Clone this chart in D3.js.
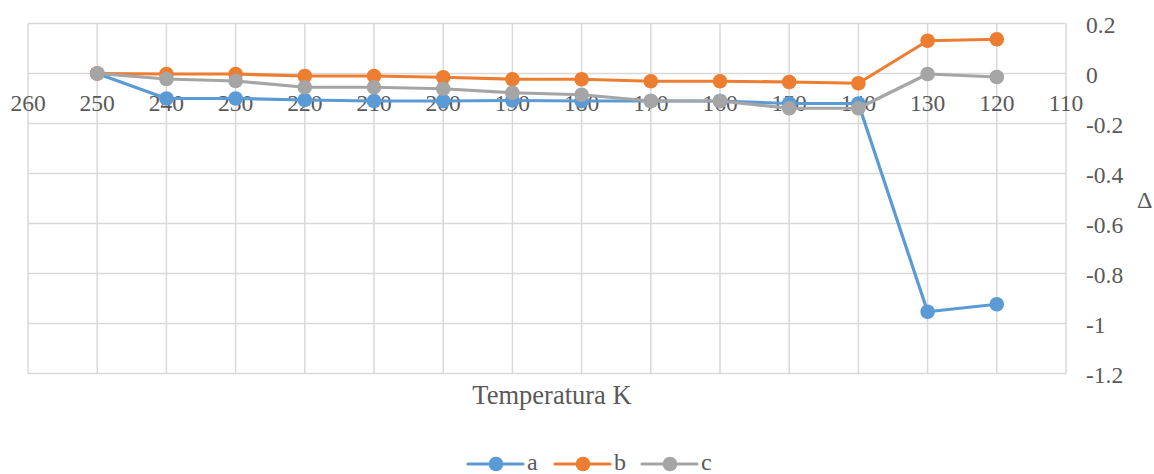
<!DOCTYPE html>
<html><head><meta charset="utf-8">
<script src="https://cdn.jsdelivr.net/npm/d3@7"></script>
<style>body{margin:0;background:#fff}svg{display:block}text{font-family:"Liberation Serif","Times New Roman",serif}</style>
</head><body>
<svg id="c" width="1154" height="474"></svg>
<script>
const temps = [250,240,230,220,210,200,190,180,170,160,150,140,130,120];
const seriesA = [0,-0.1,-0.1,-0.106,-0.11,-0.11,-0.108,-0.11,-0.11,-0.11,-0.12,-0.12,-0.953,-0.923];
const seriesB = [0,-0.002,-0.002,-0.01,-0.01,-0.015,-0.023,-0.023,-0.031,-0.031,-0.034,-0.039,0.131,0.137];
const seriesC = [0,-0.022,-0.03,-0.055,-0.055,-0.061,-0.077,-0.085,-0.11,-0.11,-0.139,-0.139,-0.002,-0.014];
const seriesNames = ["a","b","c"];
const colors = ["#5b9bd5","#ed7d31","#a5a5a5"];
const xTicks = [260,250,240,230,220,210,200,190,180,170,160,150,140,130,120,110];
const yTicks = [0.2,0,-0.2,-0.4,-0.6,-0.8,-1,-1.2];

const svg = d3.select("#c");
const x = d3.scaleLinear().domain([260,110]).range([28,1066]);
const y = d3.scaleLinear().domain([0.2,-1.2]).range([23.5,373.5]);
const tc = "#595959";

svg.append("g").selectAll("line").data(xTicks).join("line")
  .attr("x1",d=>x(d)).attr("x2",d=>x(d)).attr("y1",y(0.2)).attr("y2",y(-1.2))
  .attr("stroke","#d9d9d9").attr("stroke-width",1.5);
svg.append("g").selectAll("line").data(yTicks).join("line")
  .attr("x1",x(260)).attr("x2",x(110)).attr("y1",d=>y(d)).attr("y2",d=>y(d))
  .attr("stroke","#d9d9d9").attr("stroke-width",1.5);

svg.append("g").selectAll("text").data(xTicks).join("text")
  .attr("x",d=>x(d)).attr("y",y(0)+37.5).attr("text-anchor","middle")
  .attr("font-size",23.5).attr("fill",tc).text(d=>d);

svg.append("g").selectAll("text").data(yTicks).join("text")
  .attr("x",1086).attr("y",d=>y(d)+9).attr("text-anchor","start")
  .attr("font-size",23.5).attr("fill",tc).text(d=>d);

svg.append("text").attr("x",1137).attr("y",208)
  .attr("font-size",24).attr("fill",tc).text("Δ");
svg.append("text").attr("x",552).attr("y",404).attr("text-anchor","middle")
  .attr("font-size",26.5).attr("fill",tc).text("Temperatura K");

const all = [seriesA,seriesB,seriesC];
const line = d3.line().x(d=>x(d[0])).y(d=>y(d[1]));
all.forEach((s,i)=>{
  const pts = temps.map((t,j)=>[t,s[j]]);
  const g = svg.append("g");
  g.append("path").attr("d",line(pts)).attr("fill","none").attr("stroke",colors[i])
    .attr("stroke-width",3.2).attr("stroke-linejoin","round");
  g.selectAll("circle").data(pts).join("circle").attr("cx",d=>x(d[0])).attr("cy",d=>y(d[1]))
    .attr("r",7.3).attr("fill",colors[i]);
});

const lx = [468,555,642];
seriesNames.forEach((n,i)=>{
  const g = svg.append("g");
  g.append("line").attr("x1",lx[i]).attr("x2",lx[i]+55).attr("y1",464).attr("y2",464)
    .attr("stroke",colors[i]).attr("stroke-width",3.2).attr("stroke-linecap","round");
  g.append("circle").attr("cx",lx[i]+28).attr("cy",464).attr("r",7.3).attr("fill",colors[i]);
  g.append("text").attr("x",lx[i]+59).attr("y",470)
    .attr("font-size",24).attr("fill",tc).text(n);
});
</script>
</body></html>
